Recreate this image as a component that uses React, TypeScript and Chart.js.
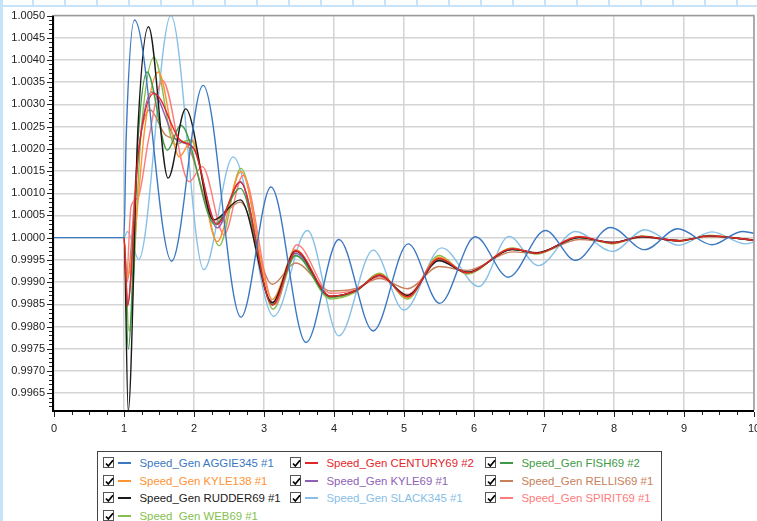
import React, { useEffect, useRef } from "react";
import { Chart, registerables } from "chart.js";

Chart.register(...registerables);

// ---------- data ----------
const xTicks = [0, 1, 2, 3, 4, 5, 6, 7, 8, 9, 10];
const yTicks = [
  0.9965, 0.997, 0.9975, 0.998, 0.9985, 0.999, 0.9995, 1.0, 1.0005, 1.001,
  1.0015, 1.002, 1.0025, 1.003, 1.0035, 1.004, 1.0045, 1.005,
];

const seriesNames = [
  "Speed_Gen AGGIE345 #1",
  "Speed_Gen CENTURY69 #2",
  "Speed_Gen FISH69 #2",
  "Speed_Gen KYLE138 #1",
  "Speed_Gen KYLE69 #1",
  "Speed_Gen RELLIS69 #1",
  "Speed_Gen RUDDER69 #1",
  "Speed_Gen SLACK345 #1",
  "Speed_Gen SPIRIT69 #1",
  "Speed_Gen WEB69 #1",
];

const seriesColors = [
  "#3b78c2",
  "#e3262c",
  "#3f9a45",
  "#ff9233",
  "#8e5fb5",
  "#c8805a",
  "#1a1a1a",
  "#86c0e8",
  "#ff7b7b",
  "#86bf4d",
];

// [time (s), speed (pu)]
const aggie345 = [
  [0, 1], [1, 1], [1.03, 1.0022], [1.15, 1.0049], [1.68, 0.99947], [2.13, 1.00343],
  [2.67, 0.99821], [3.1, 1.00114], [3.6, 0.99764], [4.07, 0.99996], [4.56, 0.9979],
  [5.06, 0.99986], [5.51, 0.99852], [6.02, 1.00002], [6.49, 0.99911], [7.02, 1.00016],
  [7.45, 0.99949], [7.95, 1.00023], [8.44, 0.99973], [8.91, 1.0002], [9.4, 0.99984],
  [9.83, 1.00014], [10, 1.0001],
];
const century69 = [
  [0, 1], [1, 1], [1.05, 0.99846], [1.2, 1.0018], [1.43, 1.00325], [1.8, 1.0022],
  [2.0, 1.002], [2.33, 1.0003], [2.66, 1.00125], [3.12, 0.99848], [3.46, 0.9997],
  [3.95, 0.99868], [4.3, 0.9988], [4.65, 0.99916], [5.05, 0.99867], [5.5, 0.99953],
  [5.9, 0.99921], [6.55, 0.99975], [6.9, 0.99965], [7.5, 1.00002], [7.98, 0.99988],
  [8.4, 1.00003], [8.93, 0.99993], [9.36, 1.00004], [10, 0.99994],
];
const fish69 = [
  [0, 1], [1, 1], [1.06, 0.99749], [1.2, 1.0022], [1.33, 1.00373], [1.62, 1.00197],
  [1.81, 1.00253], [2.3, 1.0003], [2.66, 1.00111], [3.12, 0.9985], [3.45, 0.9996],
  [3.95, 0.99866], [4.3, 0.99879], [4.65, 0.99916], [5.05, 0.99868], [5.5, 0.99952],
  [5.9, 0.99921], [6.55, 0.99974], [6.9, 0.99965], [7.5, 1.00001], [7.98, 0.99988],
  [8.4, 1.00003], [8.93, 0.99993], [9.36, 1.00004], [10, 0.99994],
];
const kyle138 = [
  [0, 1], [1, 1], [1.04, 0.9991], [1.15, 1.0], [1.3, 1.0025], [1.49, 1.00373],
  [1.79, 1.00182], [1.97, 1.0022], [2.33, 0.99991], [2.67, 1.00149], [3.12, 0.99861],
  [3.45, 0.99973], [3.95, 0.99866], [4.3, 0.99878], [4.65, 0.99918], [5.05, 0.99865],
  [5.5, 0.99956], [5.9, 0.9992], [6.55, 0.99976], [6.9, 0.99964], [7.5, 1.00002],
  [7.98, 0.99987], [8.4, 1.00003], [8.93, 0.99992], [9.36, 1.00005], [10, 0.99994],
];
const kyle69 = [
  [0, 1], [1, 1], [1.05, 0.9985], [1.2, 1.0018], [1.4, 1.00328], [1.75, 1.0022],
  [2.0, 1.002], [2.33, 1.00022], [2.66, 1.00126], [3.12, 0.9985], [3.45, 0.99965],
  [3.95, 0.99867], [4.3, 0.9988], [4.65, 0.99915], [5.05, 0.99868], [5.5, 0.9995],
  [5.9, 0.99922], [6.55, 0.99974], [6.9, 0.99965], [7.5, 1.00001], [7.98, 0.99989],
  [8.4, 1.00002], [8.93, 0.99993], [9.36, 1.00004], [10, 0.99994],
];
const rellis69 = [
  [0, 1], [1, 1], [1.04, 0.999], [1.2, 1.0019], [1.37, 1.00288], [1.6, 1.0023],
  [1.9, 1.0021], [2.3, 1.0004], [2.66, 1.0008], [3.12, 0.99895], [3.45, 0.99943],
  [3.95, 0.9988], [4.3, 0.99885], [4.65, 0.99908], [5.05, 0.99885], [5.5, 0.99935],
  [5.9, 0.99926], [6.55, 0.99968], [6.9, 0.99965], [7.5, 0.99996], [7.98, 0.9999],
  [8.4, 1.0], [8.93, 0.99994], [9.36, 1.00002], [10, 0.99995],
];
const rudder69 = [
  [0, 1], [1, 1], [1.06, 0.9961], [1.2, 1.0025], [1.35, 1.00475], [1.63, 1.00134],
  [1.88, 1.0029], [2.28, 1.0004], [2.66, 1.00085], [3.12, 0.99854], [3.45, 0.9997],
  [3.95, 0.99868], [4.3, 0.9988], [4.65, 0.99915], [5.05, 0.9987], [5.5, 0.99948],
  [5.9, 0.99922], [6.55, 0.99973], [6.9, 0.99966], [7.5, 1.0], [7.98, 0.99989],
  [8.4, 1.00002], [8.93, 0.99993], [9.36, 1.00004], [10, 0.99994],
];
const slack345 = [
  [0, 1], [1, 1], [1.05, 1.00014], [1.21, 0.99951], [1.67, 1.005], [2.14, 0.99928],
  [2.56, 1.00182], [3.14, 0.99823], [3.62, 1.00016], [4.07, 0.99779], [4.56, 0.99972],
  [5.0, 0.99837], [5.54, 0.99977], [6.07, 0.9989], [6.5, 1.00003], [6.92, 0.99937],
  [7.45, 1.00014], [7.98, 0.99969], [8.44, 1.00018], [8.92, 0.99983], [9.4, 1.00013],
  [9.88, 0.99986], [10, 0.9999],
];
const spirit69 = [
  [0, 1], [1, 1], [1.03, 0.99888], [1.1, 1.0007], [1.2, 1.0009], [1.35, 1.0022],
  [1.55, 1.00354], [1.93, 1.00126], [2.12, 1.0016], [2.43, 1.00007], [2.7, 1.0014],
  [3.15, 0.9985], [3.47, 0.99984], [3.95, 0.99875], [4.3, 0.99882], [4.65, 0.99912],
  [5.05, 0.99872], [5.5, 0.99955], [5.9, 0.99922], [6.55, 0.99975], [6.9, 0.99966],
  [7.5, 1.00002], [7.98, 0.99988], [8.4, 1.00003], [8.93, 0.99993], [9.36, 1.00004],
  [10, 0.99995],
];
const web69 = [
  [0, 1], [1, 1], [1.07, 0.9979], [1.25, 1.0025], [1.43, 1.00406], [1.72, 1.0021],
  [1.95, 1.0022], [2.36, 0.99982], [2.67, 1.00156], [3.13, 0.99839], [3.45, 0.9996],
  [3.95, 0.99862], [4.3, 0.99877], [4.65, 0.9992], [5.05, 0.99862], [5.5, 0.9996],
  [5.9, 0.99918], [6.55, 0.99977], [6.9, 0.99963], [7.5, 1.00003], [7.98, 0.99986],
  [8.4, 1.00004], [8.93, 0.99992], [9.36, 1.00005], [10, 0.99993],
];

const seriesData = [
  aggie345, century69, fish69, kyle138, kyle69, rellis69, rudder69, slack345, spirit69, web69,
];
// draw order (lower = on top)
const seriesOrder = [0, 1, 4, 5, 6, 8, 3, 9, 7, 7];

const Y_MIN = 0.99612;
const Y_MAX = 1.005;

// ---------- decoration plugin ----------
const framePlugin = {
  id: "frame",
  afterDraw(chart: any) {
    const { ctx, chartArea: a, scales } = chart;
    const xs = scales.x;
    const ys = scales.y;
    ctx.save();
    // top / right border
    ctx.strokeStyle = "#9a9a9a";
    ctx.lineWidth = 1.5;
    ctx.beginPath();
    ctx.moveTo(a.left, a.top);
    ctx.lineTo(a.right, a.top);
    ctx.lineTo(a.right, a.bottom);
    ctx.stroke();
    // axes
    ctx.strokeStyle = "#000";
    ctx.lineWidth = 2;
    ctx.beginPath();
    ctx.moveTo(a.left - 1, a.top);
    ctx.lineTo(a.left - 1, a.bottom + 1);
    ctx.lineTo(a.right, a.bottom + 1);
    ctx.stroke();
    // ticks
    ctx.lineWidth = 1;
    ctx.strokeStyle = "#222";
    ctx.beginPath();
    for (let i = 9962; i <= 10050; i++) {
      const py = Math.round(ys.getPixelForValue(i / 10000)) + 0.5;
      const len = i % 5 === 0 ? 5 : 3;
      ctx.moveTo(a.left - 2 - len, py);
      ctx.lineTo(a.left - 2, py);
    }
    for (let q = 0; q <= 40; q++) {
      const px = Math.round(xs.getPixelForValue(q / 4)) + 0.5;
      const len = q % 4 === 0 ? 5 : 3;
      ctx.moveTo(px, a.bottom + 2);
      ctx.lineTo(px, a.bottom + 2 + len);
    }
    ctx.stroke();
    ctx.restore();
  },
};

// ---------- legend ----------
const legendColX = [103, 290, 485];
const legendRowY = [463.3, 480.7, 498.1, 515.5];

function Check() {
  return (
    <svg width="9" height="9" viewBox="0 0 9 9" style={{ position: "absolute", left: 1, top: 1 }}>
      <polyline points="1,4.5 3.3,7 8,1.2" fill="none" stroke="#000" strokeWidth="1.7" />
    </svg>
  );
}

export default function App() {
  const canvasRef = useRef<HTMLCanvasElement | null>(null);

  useEffect(() => {
    const canvas = canvasRef.current;
    if (!canvas) return;
    const chart = new Chart(canvas, {
      type: "line",
      data: {
        datasets: seriesNames.map((name, i) => ({
          label: name,
          data: seriesData[i].map(([x, y]) => ({ x, y })),
          borderColor: seriesColors[i],
          backgroundColor: seriesColors[i],
          borderWidth: 1.4,
          pointRadius: 0,
          fill: false,
          cubicInterpolationMode: "monotone" as const,
          order: seriesOrder[i],
          // the pre-disturbance flat part is hidden under AGGIE345 in the original
          segment: {
            borderColor: (c: any) =>
              i !== 0 && c.p1.parsed.x <= 1 ? "rgba(0,0,0,0)" : undefined,
          },
        })),
      },
      options: {
        animation: false,
        responsive: false,
        events: [],
        layout: { padding: { top: 15, right: 26, left: 0, bottom: 0 } },
        plugins: {
          legend: { display: false },
          tooltip: { enabled: false },
          title: { display: false },
        },
        scales: {
          x: {
            type: "linear",
            min: 0,
            max: 10,
            afterBuildTicks: (s: any) => {
              s.ticks = xTicks.map((value) => ({ value }));
            },
            afterFit: (s: any) => {
              s.height = 30;
            },
            grid: { color: "#d4d4d4", lineWidth: 1.5, drawTicks: false },
            border: { display: false },
            ticks: {
              padding: 12,
              maxRotation: 0,
              autoSkip: false,
              color: "#222",
              font: { family: "Liberation Sans", size: 11 },
              callback: (v: any) => String(v),
            },
          },
          y: {
            type: "linear",
            min: Y_MIN,
            max: Y_MAX,
            afterBuildTicks: (s: any) => {
              s.ticks = yTicks.map((value) => ({ value }));
            },
            afterFit: (s: any) => {
              s.width = 54;
            },
            grid: { color: "#d4d4d4", lineWidth: 1.5, drawTicks: false },
            border: { display: false },
            ticks: {
              padding: 9,
              autoSkip: false,
              color: "#222",
              font: { family: "Liberation Sans", size: 11 },
              callback: (v: any) => Number(v).toFixed(4),
            },
          },
        },
      },
      plugins: [framePlugin],
    });
    return () => chart.destroy();
  }, []);

  return (
    <div
      style={{
        position: "fixed",
        left: 0,
        top: 0,
        width: 757,
        height: 521,
        overflow: "hidden",
        background: "#fff",
        fontFamily: "Liberation Sans, Arial, sans-serif",
      }}
    >
      {/* top strip */}
      <div
        style={{
          position: "absolute",
          left: 0,
          top: 0,
          width: 757,
          height: 5,
          borderBottom: "2px solid #c6e4f7",
          backgroundImage:
            "repeating-linear-gradient(to right, #c6e4f7 0px, #c6e4f7 2px, transparent 2px, transparent 32px)",
          backgroundPosition: "0px 0px",
        }}
      />
      {/* left border */}
      <div style={{ position: "absolute", left: 0, top: 0, width: 3, height: 521, background: "#c6e4f7" }} />
      <canvas
        ref={canvasRef}
        width={780}
        height={440}
        style={{ position: "absolute", left: 0, top: 0, width: 780, height: 440 }}
      />
      {/* legend box */}
      <div
        style={{
          position: "absolute",
          left: 97,
          top: 451,
          width: 563,
          height: 90,
          border: "1px solid #444",
          background: "#fff",
        }}
      />
      {seriesNames.map((name, i) => {
        const col = i % 3;
        const row = Math.floor(i / 3);
        const x = legendColX[col];
        const y = legendRowY[row];
        return (
          <React.Fragment key={name}>
            <div
              style={{
                position: "absolute",
                left: x,
                top: y - 6,
                width: 11,
                height: 11,
                border: "1px solid #555",
                boxSizing: "border-box",
                background: "#fff",
              }}
            >
              <Check />
            </div>
            <div
              style={{
                position: "absolute",
                left: x + 15,
                top: y - 1,
                width: 13,
                height: 2,
                background: seriesColors[i],
              }}
            />
            <div
              style={{
                position: "absolute",
                left: x + 36.5,
                top: y - 8,
                height: 16,
                lineHeight: "16px",
                fontSize: 11.4,
                color: seriesColors[i],
                whiteSpace: "nowrap",
              }}
            >
              {name}
            </div>
          </React.Fragment>
        );
      })}
    </div>
  );
}
